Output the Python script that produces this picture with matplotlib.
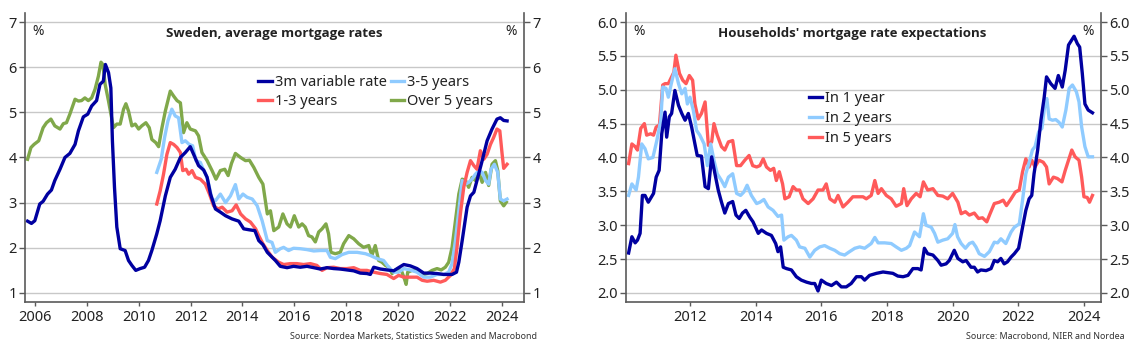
import numpy as np
import matplotlib
matplotlib.use("Agg")
import matplotlib.pyplot as plt
from matplotlib.ticker import FormatStrFormatter

plt.rcParams['font.family'] = ['Noto Sans', 'DejaVu Sans']

# ---- left chart: Sweden, average mortgage rates ----
var3m_x = [2005.72, 2005.87, 2006.0, 2006.19, 2006.32, 2006.49, 2006.64, 2006.77, 2006.97, 2007.16,
           2007.35, 2007.55, 2007.68, 2007.87, 2008.04, 2008.19, 2008.38, 2008.51, 2008.64, 2008.72,
           2008.84, 2008.93, 2008.99, 2009.07, 2009.16, 2009.29, 2009.48, 2009.61, 2009.74, 2009.89,
           2010.06, 2010.23, 2010.38, 2010.51, 2010.70, 2010.83, 2011.03, 2011.22, 2011.41, 2011.61,
           2011.80, 2011.99, 2012.12, 2012.31, 2012.51, 2012.64, 2012.77, 2012.96, 2013.15, 2013.35,
           2013.60, 2013.86, 2014.05, 2014.25, 2014.48, 2014.63, 2014.79, 2014.96, 2015.08, 2015.27,
           2015.46, 2015.72, 2015.97, 2016.23, 2016.49, 2016.75, 2017.0, 2017.26, 2017.52, 2017.77,
           2018.03, 2018.29, 2018.54, 2018.80, 2018.93, 2019.06, 2019.32, 2019.57, 2019.83, 2020.02,
           2020.22, 2020.47, 2020.73, 2020.99, 2021.24, 2021.50, 2021.76, 2022.08, 2022.25, 2022.34,
           2022.47, 2022.66, 2022.79, 2022.92, 2023.04, 2023.24, 2023.43, 2023.62, 2023.81, 2023.94,
           2024.07, 2024.20]
var3m_y = [2.59, 2.54, 2.60, 2.97, 3.03, 3.19, 3.28, 3.49, 3.74, 4.00,
           4.09, 4.29, 4.59, 4.90, 4.96, 5.14, 5.26, 5.62, 5.69, 6.06,
           5.88, 5.54, 4.37, 3.34, 2.46, 1.98, 1.94, 1.72, 1.61, 1.50,
           1.54, 1.57, 1.72, 1.94, 2.31, 2.60, 3.15, 3.56, 3.74, 4.00,
           4.11, 4.24, 4.07, 3.82, 3.72, 3.56, 3.19, 2.86, 2.79, 2.71,
           2.64, 2.59, 2.42, 2.40, 2.38, 2.16, 2.07, 1.90, 1.83, 1.72,
           1.59, 1.56, 1.59, 1.57, 1.59, 1.56, 1.53, 1.56, 1.54, 1.53,
           1.51, 1.49, 1.44, 1.43, 1.41, 1.57, 1.53, 1.51, 1.49, 1.56,
           1.63, 1.60, 1.54, 1.44, 1.44, 1.43, 1.41, 1.41, 1.46, 1.68,
           2.16, 2.90, 3.15, 3.23, 3.49, 3.93, 4.37, 4.63, 4.85, 4.88,
           4.82, 4.81]

y1_3_x = [2010.70, 2010.83, 2010.96, 2011.09, 2011.22, 2011.35, 2011.48, 2011.61, 2011.70, 2011.83,
          2011.93, 2012.06, 2012.19, 2012.38, 2012.57, 2012.73, 2012.89, 2013.06, 2013.22, 2013.41,
          2013.60, 2013.76, 2013.93, 2014.12, 2014.31, 2014.51, 2014.63, 2014.79, 2014.96, 2015.15,
          2015.40, 2015.59, 2015.85, 2016.10, 2016.36, 2016.62, 2016.87, 2017.07, 2017.26, 2017.52,
          2017.77, 2018.03, 2018.29, 2018.54, 2018.80, 2019.06, 2019.32, 2019.57, 2019.83, 2020.02,
          2020.22, 2020.47, 2020.73, 2020.93, 2021.12, 2021.37, 2021.63, 2021.82, 2022.02, 2022.17,
          2022.27, 2022.40, 2022.53, 2022.66, 2022.79, 2022.92, 2023.04, 2023.17, 2023.30, 2023.43,
          2023.56, 2023.68, 2023.81, 2023.92, 2024.01, 2024.07, 2024.20]
y1_3_y = [2.97, 3.26, 3.63, 4.07, 4.33, 4.29, 4.22, 4.11, 3.71, 3.74,
          3.63, 3.71, 3.56, 3.52, 3.41, 3.19, 2.93, 2.86, 2.90, 2.79,
          2.82, 2.95, 2.75, 2.64, 2.57, 2.42, 2.27, 2.09, 1.94, 1.79,
          1.68, 1.63, 1.65, 1.65, 1.63, 1.65, 1.61, 1.50, 1.56, 1.57,
          1.54, 1.54, 1.56, 1.50, 1.50, 1.46, 1.43, 1.41, 1.32, 1.39,
          1.35, 1.35, 1.35, 1.28, 1.26, 1.28, 1.24, 1.28, 1.39, 1.54,
          2.01, 2.75, 3.34, 3.67, 3.93, 3.82, 3.74, 4.15, 3.96, 4.07,
          4.29, 4.44, 4.63, 4.59, 4.07, 3.76, 3.85]

y3_5_x = [2010.70, 2010.87, 2011.0, 2011.13, 2011.28, 2011.41, 2011.54, 2011.67, 2011.80, 2011.95,
          2012.08, 2012.21, 2012.38, 2012.51, 2012.64, 2012.83, 2012.96, 2013.15, 2013.35, 2013.54,
          2013.73, 2013.86, 2014.02, 2014.18, 2014.38, 2014.57, 2014.76, 2014.96, 2015.14, 2015.27,
          2015.46, 2015.59, 2015.78, 2015.97, 2016.23, 2016.49, 2016.75, 2017.0, 2017.26, 2017.39,
          2017.58, 2017.84, 2018.10, 2018.42, 2018.74, 2018.93, 2019.19, 2019.44, 2019.64, 2019.83,
          2020.02, 2020.22, 2020.47, 2020.73, 2020.99, 2021.24, 2021.50, 2021.76, 2021.95, 2022.08,
          2022.21, 2022.34, 2022.47, 2022.60, 2022.72, 2022.85, 2022.98, 2023.11, 2023.24, 2023.37,
          2023.49, 2023.58, 2023.71, 2023.84, 2023.94, 2024.07, 2024.20]
y3_5_y = [3.67, 3.96, 4.44, 4.81, 5.07, 4.92, 4.88, 4.33, 4.37, 4.29,
          4.26, 3.93, 3.89, 3.71, 3.56, 3.08, 3.04, 3.19, 3.00, 3.15,
          3.40, 3.08, 3.19, 3.12, 3.08, 2.93, 2.60, 2.16, 2.12, 1.90,
          1.98, 2.01, 1.94, 1.99, 1.98, 1.96, 1.93, 1.94, 1.94, 1.79,
          1.76, 1.85, 1.90, 1.90, 1.87, 1.83, 1.76, 1.72, 1.57, 1.46,
          1.46, 1.54, 1.51, 1.46, 1.35, 1.35, 1.41, 1.41, 1.46, 1.65,
          2.16, 2.82, 3.49, 3.41, 3.45, 3.52, 3.63, 3.71, 3.67, 3.49,
          3.41, 3.74, 3.85, 3.67, 3.08, 3.04, 3.08]

over5_x = [2005.72, 2005.85, 2005.97, 2006.15, 2006.32, 2006.45, 2006.62, 2006.77, 2006.97, 2007.10,
           2007.22, 2007.35, 2007.55, 2007.68, 2007.80, 2007.93, 2008.06, 2008.19, 2008.32, 2008.45,
           2008.55, 2008.62, 2008.71, 2008.84, 2009.03, 2009.16, 2009.29, 2009.42, 2009.51, 2009.61,
           2009.74, 2009.87, 2010.0, 2010.12, 2010.28, 2010.41, 2010.51, 2010.66, 2010.77, 2010.90,
           2011.03, 2011.22, 2011.35, 2011.48, 2011.61, 2011.73, 2011.86, 2011.99, 2012.19, 2012.31,
           2012.44, 2012.64, 2012.83, 2012.98, 2013.15, 2013.32, 2013.45, 2013.58, 2013.73, 2013.93,
           2014.12, 2014.27, 2014.44, 2014.63, 2014.79, 2014.96, 2015.08, 2015.21, 2015.40, 2015.56,
           2015.72, 2015.85, 2016.0, 2016.17, 2016.30, 2016.42, 2016.55, 2016.68, 2016.81, 2016.94,
           2017.07, 2017.22, 2017.32, 2017.41, 2017.58, 2017.77, 2017.90, 2018.10, 2018.29, 2018.48,
           2018.67, 2018.87, 2018.99, 2019.12, 2019.25, 2019.38, 2019.51, 2019.64, 2019.77, 2019.90,
           2020.02, 2020.15, 2020.24, 2020.31, 2020.37, 2020.54, 2020.73, 2020.93, 2021.12, 2021.31,
           2021.50, 2021.66, 2021.82, 2021.95, 2022.08, 2022.21, 2022.34, 2022.47, 2022.60, 2022.72,
           2022.85, 2022.98, 2023.11, 2023.24, 2023.37, 2023.49, 2023.62, 2023.75, 2023.84, 2023.94,
           2024.07, 2024.17]
over5_y = [3.96, 4.22, 4.29, 4.37, 4.66, 4.77, 4.85, 4.70, 4.63, 4.75,
           4.77, 4.96, 5.29, 5.25, 5.26, 5.32, 5.26, 5.32, 5.51, 5.80,
           6.11, 6.06, 5.62, 5.25, 4.66, 4.74, 4.74, 5.07, 5.19, 5.03,
           4.70, 4.74, 4.63, 4.70, 4.77, 4.66, 4.40, 4.33, 4.24, 4.66,
           5.03, 5.47, 5.36, 5.26, 5.21, 4.55, 4.77, 4.63, 4.59, 4.48,
           4.11, 3.93, 3.71, 3.52, 3.71, 3.74, 3.60, 3.87, 4.09, 4.00,
           3.93, 3.94, 3.78, 3.56, 3.41, 2.75, 2.82, 2.38, 2.46, 2.75,
           2.53, 2.46, 2.71, 2.46, 2.53, 2.46, 2.27, 2.24, 2.13, 2.35,
           2.42, 2.53, 2.31, 1.90, 1.87, 1.90, 2.09, 2.27, 2.20, 2.09,
           2.01, 2.05, 1.83, 2.05, 1.72, 1.68, 1.61, 1.57, 1.43, 1.51,
           1.54, 1.46, 1.32, 1.19, 1.46, 1.50, 1.49, 1.39, 1.43, 1.50,
           1.54, 1.51, 1.57, 1.68, 2.01, 2.60, 3.19, 3.52, 3.49, 3.34,
           3.56, 3.49, 3.67, 3.45, 3.67, 3.38, 3.85, 3.93, 3.71, 3.04,
           2.93, 3.01]

# ---- right chart: Households' mortgage rate expectations ----
in1_x = [2010.13, 2010.23, 2010.33, 2010.40, 2010.48, 2010.55, 2010.63, 2010.73, 2010.89, 2010.97,
         2011.06, 2011.14, 2011.24, 2011.29, 2011.37, 2011.44, 2011.54, 2011.65, 2011.75, 2011.85,
         2011.95, 2012.05, 2012.15, 2012.22, 2012.35, 2012.46, 2012.56, 2012.66, 2012.76, 2012.86,
         2012.96, 2013.06, 2013.17, 2013.30, 2013.40, 2013.50, 2013.60, 2013.70, 2013.82, 2013.92,
         2014.08, 2014.18, 2014.33, 2014.48, 2014.61, 2014.68, 2014.76, 2014.84, 2014.94, 2015.09,
         2015.24, 2015.39, 2015.55, 2015.70, 2015.80, 2015.90, 2016.00, 2016.15, 2016.31, 2016.46,
         2016.61, 2016.76, 2016.91, 2017.07, 2017.22, 2017.32, 2017.47, 2017.68, 2017.88, 2018.03,
         2018.18, 2018.33, 2018.49, 2018.64, 2018.79, 2018.94, 2019.04, 2019.14, 2019.24, 2019.40,
         2019.55, 2019.65, 2019.80, 2019.90, 2020.05, 2020.16, 2020.31, 2020.41, 2020.56, 2020.66,
         2020.76, 2020.86, 2021.02, 2021.17, 2021.27, 2021.37, 2021.47, 2021.57, 2021.67, 2021.78,
         2021.88, 2022.01, 2022.13, 2022.23, 2022.33, 2022.41, 2022.48, 2022.59, 2022.69, 2022.79,
         2022.86, 2022.99, 2023.12, 2023.22, 2023.34, 2023.43, 2023.53, 2023.70, 2023.80, 2023.87,
         2023.95, 2024.03, 2024.13, 2024.26]
in1_y = [2.59, 2.83, 2.74, 2.78, 2.88, 3.44, 3.44, 3.34, 3.47, 3.71,
         3.81, 4.35, 4.67, 4.30, 4.60, 4.65, 4.99, 4.77, 4.65, 4.55,
         4.65, 4.45, 4.20, 4.03, 4.02, 3.57, 3.54, 4.01, 3.76, 3.52,
         3.34, 3.18, 3.32, 3.35, 3.15, 3.10, 3.18, 3.22, 3.12, 3.05,
         2.88, 2.93, 2.88, 2.85, 2.73, 2.61, 2.68, 2.38, 2.36, 2.34,
         2.24, 2.19, 2.16, 2.14, 2.14, 2.03, 2.19, 2.14, 2.11, 2.16,
         2.09, 2.09, 2.14, 2.24, 2.24, 2.19, 2.26, 2.29, 2.31, 2.30,
         2.29, 2.25, 2.24, 2.26, 2.36, 2.36, 2.34, 2.66, 2.58, 2.56,
         2.48, 2.41, 2.43, 2.48, 2.63, 2.51, 2.46, 2.48, 2.38, 2.38,
         2.31, 2.34, 2.33, 2.36, 2.48, 2.46, 2.51, 2.43, 2.46, 2.53,
         2.58, 2.66, 2.97, 3.22, 3.39, 3.44, 3.76, 4.11, 4.55, 4.89,
         5.19, 5.09, 5.02, 5.21, 5.04, 5.29, 5.66, 5.79, 5.68, 5.63,
         5.24, 4.79, 4.70, 4.66]

in2_x = [2010.13, 2010.23, 2010.36, 2010.43, 2010.53, 2010.63, 2010.73, 2010.87, 2010.99, 2011.11,
         2011.17, 2011.27, 2011.34, 2011.44, 2011.54, 2011.65, 2011.75, 2011.85, 2011.92, 2012.00,
         2012.10, 2012.20, 2012.30, 2012.43, 2012.53, 2012.63, 2012.73, 2012.83, 2012.96, 2013.06,
         2013.17, 2013.30, 2013.42, 2013.54, 2013.64, 2013.74, 2013.87, 2014.03, 2014.13, 2014.25,
         2014.38, 2014.53, 2014.68, 2014.79, 2014.86, 2014.99, 2015.09, 2015.24, 2015.34, 2015.50,
         2015.65, 2015.80, 2015.95, 2016.10, 2016.26, 2016.41, 2016.56, 2016.71, 2016.86, 2017.02,
         2017.17, 2017.32, 2017.52, 2017.63, 2017.73, 2017.93, 2018.13, 2018.28, 2018.44, 2018.59,
         2018.69, 2018.84, 2018.99, 2019.11, 2019.19, 2019.35, 2019.45, 2019.55, 2019.70, 2019.85,
         2020.00, 2020.07, 2020.15, 2020.26, 2020.39, 2020.51, 2020.61, 2020.71, 2020.81, 2020.97,
         2021.12, 2021.27, 2021.37, 2021.47, 2021.62, 2021.78, 2021.88, 2022.03, 2022.13, 2022.23,
         2022.35, 2022.43, 2022.51, 2022.62, 2022.72, 2022.82, 2022.87, 2022.94, 2023.04, 2023.14,
         2023.24, 2023.34, 2023.45, 2023.55, 2023.65, 2023.77, 2023.85, 2023.93, 2024.03, 2024.13,
         2024.26]
in2_y = [3.44, 3.61, 3.52, 3.71, 4.20, 4.13, 3.98, 4.00, 4.25, 4.55,
         5.04, 5.02, 4.89, 5.11, 5.31, 5.09, 4.94, 5.02, 4.79, 4.89,
         4.70, 4.40, 4.33, 4.20, 3.88, 4.20, 3.96, 3.76, 3.66, 3.57,
         3.71, 3.76, 3.47, 3.44, 3.49, 3.59, 3.44, 3.32, 3.34, 3.38,
         3.27, 3.22, 3.13, 3.15, 2.78, 2.83, 2.85, 2.78, 2.68, 2.66,
         2.53, 2.63, 2.68, 2.70, 2.66, 2.63, 2.58, 2.56, 2.61, 2.66,
         2.68, 2.66, 2.73, 2.82, 2.74, 2.74, 2.73, 2.68, 2.63, 2.66,
         2.70, 2.90, 2.83, 3.17, 3.00, 2.97, 2.88, 2.75, 2.78, 2.80,
         2.88, 3.01, 2.83, 2.73, 2.66, 2.73, 2.75, 2.68, 2.58, 2.54,
         2.61, 2.75, 2.74, 2.80, 2.73, 2.90, 2.97, 3.02, 3.37, 3.76,
         3.96, 4.11, 4.16, 4.38, 4.43, 4.82, 4.87, 4.57, 4.55, 4.56,
         4.52, 4.45, 4.70, 5.02, 5.07, 4.97, 4.82, 4.45, 4.16, 4.01,
         4.01]

in5_x = [2010.13, 2010.23, 2010.33, 2010.40, 2010.50, 2010.61, 2010.68, 2010.80, 2010.89, 2010.97,
         2011.07, 2011.17, 2011.24, 2011.34, 2011.44, 2011.51, 2011.57, 2011.68, 2011.78, 2011.88,
         2011.98, 2012.08, 2012.15, 2012.25, 2012.35, 2012.46, 2012.56, 2012.66, 2012.73, 2012.83,
         2012.96, 2013.06, 2013.17, 2013.30, 2013.42, 2013.54, 2013.67, 2013.80, 2013.91, 2014.03,
         2014.13, 2014.23, 2014.33, 2014.45, 2014.55, 2014.63, 2014.72, 2014.82, 2014.89, 2015.02,
         2015.14, 2015.24, 2015.34, 2015.44, 2015.60, 2015.75, 2015.90, 2016.05, 2016.15, 2016.26,
         2016.41, 2016.51, 2016.66, 2016.81, 2016.96, 2017.12, 2017.27, 2017.37, 2017.52, 2017.63,
         2017.73, 2017.83, 2017.98, 2018.13, 2018.28, 2018.44, 2018.51, 2018.61, 2018.74, 2018.89,
         2019.01, 2019.11, 2019.24, 2019.40, 2019.55, 2019.70, 2019.85, 2020.00, 2020.16, 2020.26,
         2020.39, 2020.51, 2020.66, 2020.79, 2020.91, 2021.04, 2021.14, 2021.27, 2021.42, 2021.54,
         2021.64, 2021.78, 2021.91, 2022.03, 2022.13, 2022.23, 2022.33, 2022.41, 2022.51, 2022.63,
         2022.76, 2022.86, 2022.94, 2023.07, 2023.19, 2023.33, 2023.43, 2023.53, 2023.63, 2023.73,
         2023.85, 2023.93, 2024.00, 2024.10, 2024.17, 2024.26]
in5_y = [3.91, 4.20, 4.16, 4.11, 4.43, 4.50, 4.33, 4.35, 4.33, 4.45,
         4.48, 5.07, 5.09, 5.09, 5.19, 5.26, 5.51, 5.24, 5.14, 5.09,
         5.21, 5.14, 4.79, 4.57, 4.65, 4.82, 4.18, 4.23, 4.50, 4.33,
         4.16, 4.11, 4.23, 4.25, 3.88, 3.88, 3.96, 4.03, 3.88, 3.86,
         3.88, 3.98, 3.86, 3.81, 3.84, 3.66, 3.79, 3.61, 3.39, 3.42,
         3.57, 3.52, 3.52, 3.39, 3.32, 3.39, 3.52, 3.52, 3.61, 3.39,
         3.34, 3.44, 3.27, 3.34, 3.42, 3.42, 3.42, 3.39, 3.44, 3.66,
         3.47, 3.54, 3.44, 3.39, 3.28, 3.32, 3.54, 3.29, 3.39, 3.47,
         3.42, 3.64, 3.52, 3.54, 3.44, 3.43, 3.39, 3.47, 3.34, 3.17,
         3.20, 3.15, 3.18, 3.10, 3.11, 3.05, 3.17, 3.32, 3.34, 3.37,
         3.29, 3.39, 3.49, 3.52, 3.79, 3.98, 3.86, 3.96, 3.86, 3.96,
         3.93, 3.86, 3.61, 3.71, 3.69, 3.64, 3.81, 3.96, 4.11, 4.01,
         3.96, 3.71, 3.42, 3.41, 3.34, 3.44]

left_ticks_x = [2006, 2008, 2010, 2012, 2014, 2016, 2018, 2020, 2022, 2024]
right_ticks_x = [2012, 2014, 2016, 2018, 2020, 2022, 2024]

NAVY = '#0000A0'
LBLUE = '#8FCBFF'
RED = '#FF5A5A'
GREEN = '#80A84A'
TXT = '#222222'
SPINE = '#5a5a5a'
GRID = '#c8c8c8'
LW = 2.4
TITLE_FONT = ['Open Sans', 'DejaVu Sans']

fig = plt.figure(figsize=(11.4, 3.56), dpi=100)
ax1 = fig.add_axes([0.0219, 0.1517, 0.4377, 0.8118])
ax2 = fig.add_axes([0.5491, 0.1517, 0.4167, 0.8118])


def style(ax):
    ax.spines['top'].set_visible(False)
    for s in ['left', 'right', 'bottom']:
        ax.spines[s].set_color(SPINE)
        ax.spines[s].set_linewidth(1.2)
    ax.yaxis.grid(True, color=GRID, linewidth=1.0)
    ax.set_axisbelow(True)
    ax.tick_params(axis='y', which='both', left=True, right=True, labelleft=True, labelright=True,
                   length=4, width=1, color=SPINE, labelsize=10.5, labelcolor=TXT, pad=2)
    ax.tick_params(axis='x', length=3, width=1, color=SPINE, labelsize=10.5, labelcolor=TXT, pad=3)


# left chart
ax1.plot(over5_x, over5_y, color=GREEN, lw=LW, label='Over 5 years')
ax1.plot(y3_5_x, y3_5_y, color=LBLUE, lw=LW, label='3-5 years')
ax1.plot(y1_3_x, y1_3_y, color=RED, lw=LW, label='1-3 years')
ax1.plot(var3m_x, var3m_y, color=NAVY, lw=LW, label='3m variable rate')
ax1.set_xlim(2005.62, 2024.85)
ax1.set_ylim(0.8, 7.2)
ax1.set_yticks(range(1, 8))
ax1.set_xticks(left_ticks_x)
style(ax1)
h, l = ax1.get_legend_handles_labels()
order = [3, 2, 1, 0]
ax1.legend([h[i] for i in order], [l[i] for i in order], ncol=2, frameon=False,
           loc='upper left', bbox_to_anchor=(0.468, 0.786), borderaxespad=0, borderpad=0,
           fontsize=10.5, handlelength=0.9, handletextpad=0.2, columnspacing=0.3,
           labelspacing=0.3, labelcolor=TXT)
ax1.text(0.5, 0.93, 'Sweden, average mortgage rates', transform=ax1.transAxes,
         ha='center', va='center', fontsize=9.5, fontweight='bold', color=TXT, family=TITLE_FONT)
ax1.text(0.015, 0.935, '%', transform=ax1.transAxes, ha='left', va='center', fontsize=10, color=TXT)
ax1.text(0.985, 0.935, '%', transform=ax1.transAxes, ha='right', va='center', fontsize=10, color=TXT)
fig.text(537 / 1140, 1 - 336 / 356, 'Source: Nordea Markets, Statistics Sweden and Macrobond',
         ha='right', va='center', fontsize=6.4, color='#333333')

# right chart
ax2.plot(in5_x, in5_y, color=RED, lw=LW, label='In 5 years')
ax2.plot(in2_x, in2_y, color=LBLUE, lw=LW, label='In 2 years')
ax2.plot(in1_x, in1_y, color=NAVY, lw=LW, label='In 1 year')
ax2.set_xlim(2010.05, 2024.52)
ax2.set_ylim(1.867, 6.133)
ax2.set_yticks(np.arange(2.0, 6.01, 0.5))
ax2.yaxis.set_major_formatter(FormatStrFormatter('%.1f'))
ax2.set_xticks(right_ticks_x)
style(ax2)
h, l = ax2.get_legend_handles_labels()
ax2.legend(h[::-1], l[::-1], frameon=False, loc='upper left', bbox_to_anchor=(0.385, 0.731),
           borderaxespad=0, borderpad=0, fontsize=10.5, handlelength=0.9, handletextpad=0.2,
           labelspacing=0.35, labelcolor=TXT)
ax2.text(0.476, 0.93, "Households' mortgage rate expectations", transform=ax2.transAxes,
         ha='center', va='center', fontsize=9.5, fontweight='bold', color=TXT, family=TITLE_FONT)
ax2.text(0.015, 0.935, '%', transform=ax2.transAxes, ha='left', va='center', fontsize=10, color=TXT)
ax2.text(0.985, 0.935, '%', transform=ax2.transAxes, ha='right', va='center', fontsize=10, color=TXT)
fig.text(1125 / 1140, 1 - 336 / 356, 'Source: Macrobond, NIER and Nordea',
         ha='right', va='center', fontsize=6.4, color='#333333')

fig.savefig('out.png', dpi=100)
